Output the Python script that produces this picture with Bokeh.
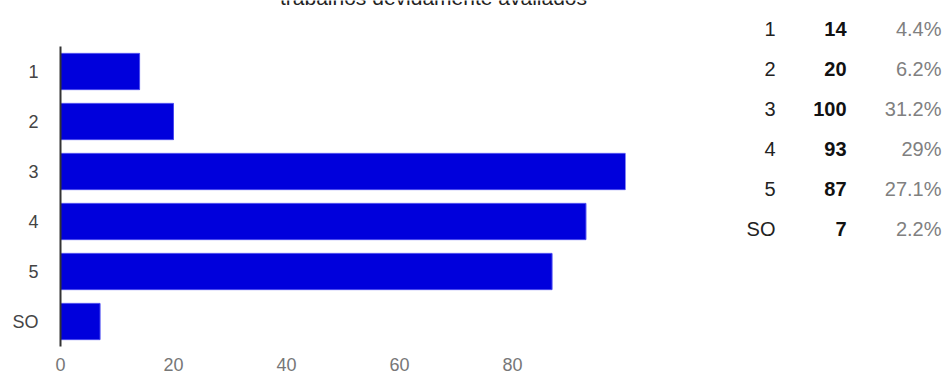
from bokeh.plotting import figure
from bokeh.models import Range1d, ColumnDataSource
from bokeh.layouts import row
from bokeh.embed import file_html
from bokeh.resources import INLINE
from bokeh.core.properties import value

title_text = "trabalhos devidamente avaliados"
categories = ["1", "2", "3", "4", "5", "SO"]
counts = [14, 20, 100, 93, 87, 7]
percents = ["4.4%", "6.2%", "31.2%", "29%", "27.1%", "2.2%"]
x_ticks = [0, 20, 40, 60, 80]

FONT = "Liberation Sans"
rows = list(range(len(categories)))
n = len(categories)

# ---- bar chart: frame spans the whole panel (0..625px wide, 0..372px high)
# value 0 sits at 60px, value 100 at 625px; bar rows occupy 46..346px
ROW_PX, TOP_PX, FRAME_H = 50.0, 46.0, 372.0
X0_PX, X100_PX = 60.0, 625.0
PX_PER_UNIT = (X100_PX - X0_PX) / 100.0


def py(px):
    """row-units value for a pixel offset from the top"""
    return -0.5 + (px - TOP_PX) / ROW_PX


def px_to_x(px):
    return (px - X0_PX) / PX_PER_UNIT


p1 = figure(width=700, height=372, output_backend="svg", toolbar_location=None,
            x_range=Range1d(px_to_x(0), 100), y_range=Range1d(py(FRAME_H), py(0)),
            x_axis_location=None, y_axis_location=None,
            min_border_left=0, min_border_right=75, min_border_top=0, min_border_bottom=0)
p1.outline_line_color = None
p1.grid.visible = False
src = ColumnDataSource(dict(row=rows, cnt=counts, cat=categories))
p1.hbar(y="row", right="cnt", left=0, height=0.725, source=src,
        fill_color="#0000dc", line_color="#4a4af0", line_width=1)
# vertical axis line covering only the category rows
p1.segment(x0=[0], y0=[-0.5], x1=[0], y1=[n - 0.5], line_color="#333333", line_width=2)

# category labels left of the axis
lab_src = ColumnDataSource(dict(x=[px_to_x(38)] * n, y=rows, t=categories))
p1.text(x="x", y="y", text="t", source=lab_src, text_align="right", text_baseline="middle",
        text_font=value(FONT), text_font_size="18px", text_color="#444444")

# x tick labels below the bars
tick_src = ColumnDataSource(dict(x=x_ticks, y=[py(363.5)] * len(x_ticks),
                                 t=[str(t) for t in x_ticks]))
p1.text(x="x", y="y", text="t", source=tick_src, text_align="center", text_baseline="middle",
        text_font=value(FONT), text_font_size="18px", text_color="#777777")

# title (partly cut off at the top edge, as in the reference)
p1.text(x=[px_to_x(433)], y=[py(-3)], text=[title_text], text_align="center",
        text_baseline="alphabetic", text_font=value(FONT), text_font_size="21px",
        text_color="#222222")

# ---- summary table
TROW_PX, TFIRST_PX = 40.0, 28.0
p2 = figure(width=246, height=372, output_backend="svg", toolbar_location=None,
            x_range=Range1d(700, 946),
            y_range=Range1d((FRAME_H - TFIRST_PX) / TROW_PX, -TFIRST_PX / TROW_PX),
            x_axis_location=None, y_axis_location=None,
            min_border_left=0, min_border_right=0, min_border_top=0, min_border_bottom=0)
p2.outline_line_color = None
p2.grid.visible = False
tsrc = ColumnDataSource(dict(cat=categories, cnt=[str(c) for c in counts], pct=percents,
                             row=rows, x1=[775] * n, x2=[846] * n, x3=[941] * n))
common = dict(y="row", source=tsrc, text_align="right", text_baseline="middle",
              text_font=value(FONT), text_font_size="20px")
p2.text(x="x1", text="cat", text_color="#222222", **common)
p2.text(x="x2", text="cnt", text_color="#111111", text_font_style="bold", **common)
p2.text(x="x3", text="pct", text_color="#808080", **common)

layout = row(p1, p2)
open("out.html", "w").write(file_html(layout, INLINE))
